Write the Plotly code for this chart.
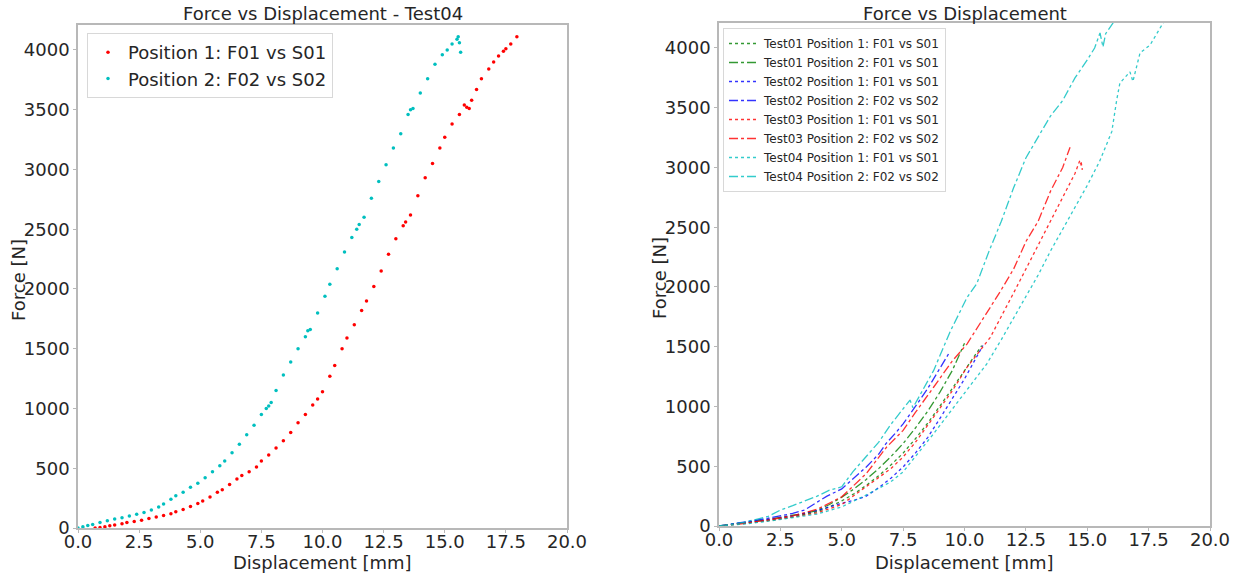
import plotly.graph_objects as go

# ---------------- Left panel: Test04 scatter ----------------
p1_x = [0.7,0.9,1.1,1.3,1.5,1.8,2.0,2.3,2.6,2.9,3.2,3.5,3.8,4.0,4.3,4.6,4.9,5.1,5.4,5.7,5.9,6.2,6.5,6.7,7.0,7.3,7.5,7.8,8.1,8.4,8.7,9.0,9.3,9.6,9.8,10.0,10.3,10.5,10.8,11.0,11.3,11.6,11.8,12.1,12.4,12.7,13.0,13.3,13.4,13.6,13.9,14.2,14.5,14.8,15.0,15.3,15.6,15.8,15.9,16.0,16.1,16.3,16.5,16.8,17.0,17.2,17.4,17.5,17.7,17.95]
p1_F = [0,5,10,18,25,35,45,55,65,80,92,105,120,135,155,180,205,225,260,300,320,365,410,440,470,510,560,610,670,730,800,880,950,1030,1080,1140,1270,1360,1500,1590,1700,1820,1900,2020,2150,2290,2420,2530,2560,2620,2780,2930,3050,3180,3270,3380,3460,3540,3520,3510,3580,3670,3760,3840,3900,3950,3990,4010,4050,4110]

p2_x = [0.0,0.2,0.4,0.6,0.9,1.2,1.5,1.8,2.1,2.4,2.7,3.0,3.3,3.5,3.8,4.0,4.3,4.6,4.9,5.2,5.5,5.8,6.0,6.3,6.6,6.9,7.2,7.5,7.7,7.8,7.9,8.1,8.4,8.7,9.0,9.3,9.4,9.5,9.8,10.1,10.3,10.6,10.9,11.2,11.4,11.5,11.7,12.0,12.3,12.6,12.9,13.2,13.5,13.6,13.7,14.0,14.3,14.6,14.9,15.1,15.3,15.5,15.55,15.6,15.65]
p2_F = [0,10,20,30,45,60,75,85,100,115,130,150,175,200,240,270,300,340,375,420,470,520,560,630,700,780,860,950,1000,1020,1050,1150,1280,1390,1500,1600,1650,1660,1800,1940,2040,2170,2310,2430,2500,2540,2600,2760,2900,3040,3180,3300,3460,3500,3510,3640,3760,3880,3960,4000,4050,4090,4110,4060,3980]

# ---------------- Right panel: all tests ----------------
t1p1_x = [0,1,2,3,3.5,4,4.5,5,5.5,6,6.5,7,7.5,8,8.5,9,9.5,10,10.5,10.7]
t1p1_F = [0,20,45,75,95,120,160,210,270,340,420,510,610,730,860,1000,1150,1300,1450,1510]
t1p2_x = [0,1,2,3,3.5,4,4.5,5,5.5,6,6.5,7,7.5,8,8.5,9,9.5,10.0]
t1p2_F = [0,25,55,90,105,130,180,240,310,390,480,580,690,820,960,1120,1300,1530]
t2p1_x = [0,1,2,3,4,5,5.5,6,6.5,7,7.5,8,8.5,9,9.5,10,10.4,10.75]
t2p1_F = [0,25,55,85,130,190,215,250,320,400,494,610,740,900,1060,1230,1380,1510]
t2p2_x = [0,1,2,3,3.5,4,4.4,5,5.5,6,6.5,6.8,7.2,7.5,8,8.5,9,9.35]
t2p2_F = [0,30,65,105,135,200,250,310,400,494,600,689,780,855,1000,1150,1320,1440]
t3p1_x = [0,1,2,3,4,5,6,7,7.5,8,8.74,9.5,10.1,11.05,12,12.5,13,13.5,14,14.5,14.7,14.8,14.75]
t3p1_F = [0,20,45,75,110,180,328,480,578,700,911,1130,1328,1578,1950,2150,2350,2550,2760,2950,3060,2980,3050]
t3p2_x = [0,1,2,3,4,5,6,6.83,7.5,8,8.74,9.5,10.1,11.05,11.45,12,12.5,13,13.5,14,14.3]
t3p2_F = [0,20,50,85,140,244,439,661,800,950,1161,1380,1522,1828,1960,2150,2380,2550,2800,3000,3170]
t4p1_x = [0,1,2,3,4,5,6,7,7.5,8.74,10.1,10.9,11.5,12,12.5,13,13.5,14,14.5,15,15.5,16.0,16.2,16.33,16.74,16.86,17.15,17.56,18.09,18.3]
t4p1_F = [0,15,40,70,100,160,260,370,453,772,1133,1355,1560,1740,1920,2100,2300,2480,2660,2850,3050,3300,3565,3707,3800,3720,3958,4025,4209,4330]
t4p2_x = [0,1,2,2.5,3,4,4.5,5,5.45,6,6.5,7,7.5,7.78,7.9,8.74,9.43,10.1,10.5,11,11.5,12,12.5,13,13.5,14,14.5,15,15.3,15.52,15.64,15.75,16.05,16.3]
t4p2_F = [0,30,80,133,170,250,300,328,453,580,700,850,980,1054,990,1300,1633,1911,2028,2300,2550,2830,3080,3250,3430,3560,3750,3900,4000,4126,4008,4120,4209,4350]

right_series = [
    ("Test01 Position 1: F01 vs S01", t1p1_x, t1p1_F, "#008000", "dot"),
    ("Test01 Position 2: F01 vs S01", t1p2_x, t1p2_F, "#008000", "dashdot"),
    ("Test02 Position 1: F01 vs S01", t2p1_x, t2p1_F, "#0000ff", "dot"),
    ("Test02 Position 2: F02 vs S02", t2p2_x, t2p2_F, "#0000ff", "dashdot"),
    ("Test03 Position 1: F01 vs S01", t3p1_x, t3p1_F, "#ff0000", "dot"),
    ("Test03 Position 2: F02 vs S02", t3p2_x, t3p2_F, "#ff0000", "dashdot"),
    ("Test04 Position 1: F01 vs S01", t4p1_x, t4p1_F, "#00bfbf", "dot"),
    ("Test04 Position 2: F02 vs S02", t4p2_x, t4p2_F, "#00bfbf", "dashdot"),
]

x_ticks = [0, 2.5, 5, 7.5, 10, 12.5, 15, 17.5, 20]
y_ticks = [0, 500, 1000, 1500, 2000, 2500, 3000, 3500, 4000]

FONT = "DejaVu Sans"
TXT = "#262626"
SPINE = "#b8b8b8"

fig = go.Figure()

fig.add_trace(go.Scatter(x=p1_x, y=p1_F, mode="markers", name="Position 1: F01 vs S01",
                         marker=dict(color="#ff0000", size=3.5), xaxis="x", yaxis="y", legend="legend"))
fig.add_trace(go.Scatter(x=p2_x, y=p2_F, mode="markers", name="Position 2: F02 vs S02",
                         marker=dict(color="#00bfbf", size=3.5), xaxis="x", yaxis="y", legend="legend"))

for name, xs, ys, col, dash in right_series:
    fig.add_trace(go.Scatter(x=xs, y=ys, mode="lines", name=name, opacity=0.8,
                             line=dict(color=col, dash=dash, width=1.3),
                             xaxis="x2", yaxis="y2", legend="legend2"))

W, H = 1238, 573
L1, R1, T1, B1 = 78, 567, 25, 528
L2, R2, T2, B2 = 719, 1210, 23, 526

def ax(dom):
    return dict(domain=dom, showgrid=False, zeroline=False, showline=True, mirror=True,
                linecolor=SPINE, linewidth=1.5, ticks="outside", ticklen=3, tickcolor=SPINE,
                automargin=False, tickfont=dict(family=FONT, size=18, color=TXT))

xa = ax([L1 / W, R1 / W]); xa.update(range=[0, 20], tickvals=x_ticks, tickformat=".1f", ticklabelstandoff=-6)
xa2 = ax([L2 / W, R2 / W]); xa2.update(range=[0, 20], tickvals=x_ticks, tickformat=".1f", anchor="y2", ticklabelstandoff=-6)
ya = ax([1 - B1 / H, 1 - T1 / H]); ya.update(range=[0, 4209], tickvals=y_ticks)
ya2 = ax([1 - B2 / H, 1 - T2 / H]); ya2.update(range=[0, 4209], tickvals=y_ticks, anchor="x2")

def ann(text, x, y, angle=0):
    return dict(text=text, x=x / W, y=1 - y / H, xref="paper", yref="paper", showarrow=False,
                textangle=angle, font=dict(family=FONT, size=18, color=TXT),
                xanchor="center", yanchor="middle")

fig.update_layout(
    width=W, height=H, margin=dict(l=0, r=0, t=0, b=0),
    paper_bgcolor="white", plot_bgcolor="white",
    xaxis=xa, yaxis=ya, xaxis2=xa2, yaxis2=ya2,
    font=dict(family=FONT, color=TXT),
    legend=dict(x=87 / W, y=1 - 33 / H, xanchor="left", yanchor="top",
                bgcolor="rgba(255,255,255,0.8)", bordercolor="#d8d8d8", borderwidth=1,
                font=dict(family=FONT, size=18, color=TXT)),
    legend2=dict(x=723 / W, y=1 - 28 / H, xanchor="left", yanchor="top",
                 bgcolor="rgba(255,255,255,0.8)", bordercolor="#d8d8d8", borderwidth=1,
                 font=dict(family=FONT, size=12, color=TXT), tracegroupgap=0),
    showlegend=True,
    annotations=[
        ann("Force vs Displacement - Test04", (L1 + R1) / 2, 14),
        ann("Force vs Displacement", (L2 + R2) / 2, 13),
        ann("Displacement [mm]", (L1 + R1) / 2, 562),
        ann("Displacement [mm]", (L2 + R2) / 2, 562),
        ann("Force [N]", 18, 280, -90),
        ann("Force [N]", 659, 278, -90),
    ],
)

fig.write_html("out.html")
